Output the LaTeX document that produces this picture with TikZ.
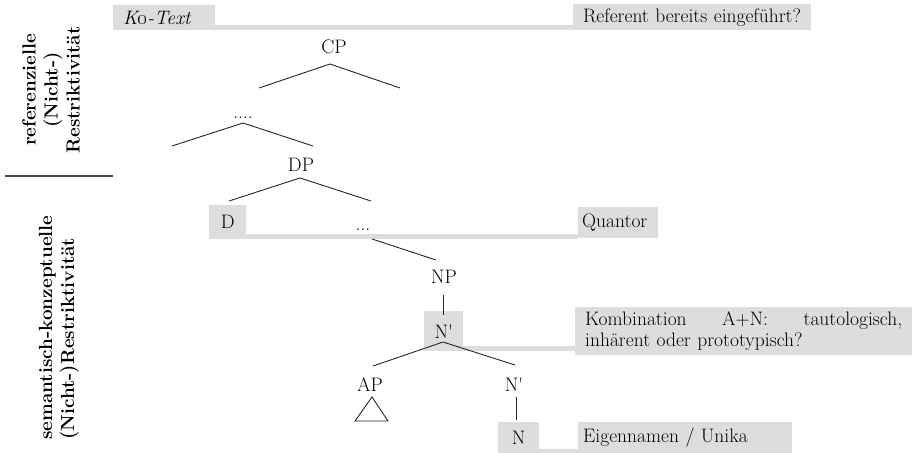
\documentclass[tikz,border=0pt]{standalone}
\definecolor{boxgrey}{RGB}{221,221,221}
\tikzset{
  treelbl/.style={anchor=base, inner sep=0pt, font=\fontsize{19.5}{22}\selectfont},
  branch/.style={line width=0.9pt, black!85},
  greybox/.style={fill=boxgrey, inner sep=0pt, font=\fontsize{19.5}{22}\selectfont},
  annot/.style={greybox, anchor=north west, align=left},
  strip/.style={boxgrey, line width=5pt},
  sidelbl/.style={rotate=90, inner sep=0pt, font=\fontsize{19}{22}\selectfont\bfseries},
}
\begin{document}
\begin{tikzpicture}[x=1pt,y=-1pt]
\useasboundingbox (0,0) rectangle (912,452);

% annotation boxes on the right (and the text level box)
\node[annot, inner xsep=10pt, text width=82pt, minimum height=25pt] (k0) at (113,5)
  {\textit{K\oldstylenums{0}-Text}};
\node[annot, inner xsep=10pt, text width=218pt, minimum height=26pt] (referent) at (573,4)
  {Referent bereits eingeführt?};
\node[annot, inner xsep=4pt, text width=72pt, minimum height=31pt] (quantor) at (578,207)
  {Quantor};
\node[annot, inner xsep=10pt, text width=317pt, minimum height=48pt,
      font=\fontsize{19.5}{20.5}\selectfont] (kombi) at (575,307)
  {\makebox[317pt][s]{Kombination\hfill A+N:\hfill tautologisch,}\\inhärent oder prototypisch?};
\node[annot, inner xsep=5pt, text width=204pt, minimum height=31pt] (eigen) at (578,422)
  {Eigennamen / Unika};

% highlighted tree nodes
\node[greybox, minimum width=37pt, minimum height=34pt, anchor=north west] (d) at (209,205) {D};
\node[greybox, minimum width=39pt, minimum height=40pt, anchor=north west] (nbar) at (424,311) {N\textquotesingle};
\node[greybox, minimum width=41pt, minimum height=31pt, anchor=north west] (n) at (498,422) {N};

% grey strips joining tree levels to their annotations
\draw[strip] ([yshift=2.5pt]k0.south east) -- ([yshift=2.5pt]k0.south east -| referent.west);
\draw[strip] ([yshift=3pt]d.south east) -- ([yshift=3pt]d.south east -| quantor.west);
\draw[strip] ([yshift=2.5pt]nbar.south east) -- ([yshift=2.5pt]nbar.south east -| kombi.west);
\draw[strip, line width=4pt] ([yshift=2pt]n.south east) -- ([yshift=2pt]n.south east -| eigen.west);

% plain tree labels
\node[treelbl] (cp) at (334,53) {CP};
\node[treelbl] (dots4) at (243,118) {....};
\node[treelbl] (dp) at (301,171) {DP};
\node[treelbl] (dots3) at (363,230) {...};
\node[treelbl] (np) at (444,283) {NP};
\node[treelbl] (ap) at (370,391) {AP};
\node[treelbl] (nbar2) at (514,391) {N\textquotesingle};

% branch points
\coordinate (cp-top) at (330,64);  \coordinate (cp-l) at (259,88);  \coordinate (cp-r) at (400,88);
\coordinate (d4-top) at (243,123); \coordinate (d4-l) at (172,146); \coordinate (d4-r) at (313,146);
\coordinate (dp-top) at (300,178); \coordinate (dp-l) at (229,201); \coordinate (dp-r) at (371,201);
\coordinate (d3-bot) at (372,239); \coordinate (np-in) at (436,260);
\coordinate (np-bot) at (443,295); \coordinate (nb-in) at (443,315);
\coordinate (nb-top) at (443,342); \coordinate (nb-l) at (373,366); \coordinate (nb-r) at (515,365);
\coordinate (n2-bot) at (516,397); \coordinate (n-in) at (516,420);
\coordinate (ap-top) at (372,397); \coordinate (ap-l) at (355,421); \coordinate (ap-r) at (388,421);

\draw[branch] (cp-l) -- (cp-top) -- (cp-r);
\draw[branch] (d4-l) -- (d4-top) -- (d4-r);
\draw[branch] (dp-l) -- (dp-top) -- (dp-r);
\draw[branch] (d3-bot) -- (np-in);
\draw[branch] (np-bot) -- (nb-in);
\draw[branch] (nb-l) -- (nb-top) -- (nb-r);
\draw[branch] (n2-bot) -- (n-in);
\draw[branch, line join=miter] (ap-top) -- (ap-l) -- (ap-r) -- cycle;

% side labels for the two levels
\node[sidelbl, align=center] (reflbl) at (51,90) {referenzielle\\(Nicht-)\\Restriktivität};
\coordinate (sep-l) at (5,176); \coordinate (sep-r) at (113,176);
\draw[line width=1.2pt, black!70] (sep-l) -- (sep-r);
\node[sidelbl, align=left, anchor=west] (semlbl) at (59,440) {semantisch-konzeptuelle\\(Nicht-)Restriktivität};
\end{tikzpicture}
\end{document}
